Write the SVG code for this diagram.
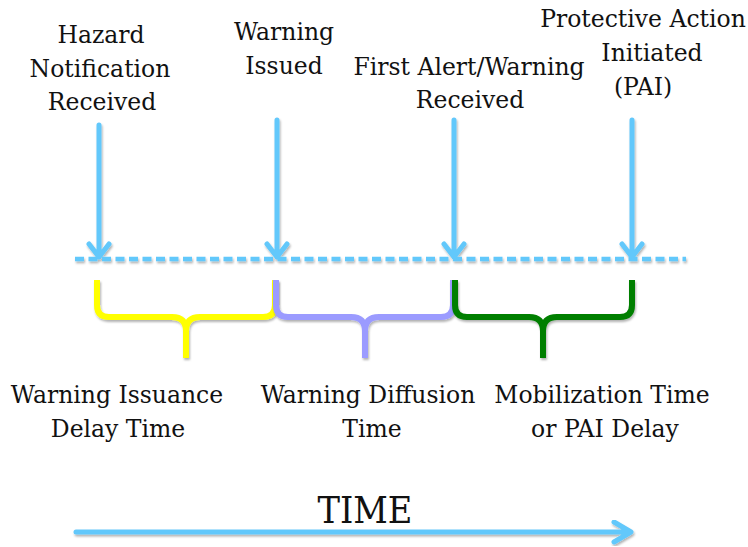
<svg xmlns="http://www.w3.org/2000/svg" width="748" height="547" viewBox="0 0 748 547">
  <style>
    text { font-family: "DejaVu Serif", "Liberation Serif", serif; font-size: 23.5px; fill: #111; text-anchor: middle; }
    .time { font-size: 37px; }
    .drop { stroke: #62c8fb; stroke-width: 5; fill: none; stroke-linecap: round; stroke-linejoin: round; }
    .axis { stroke: #62c8fb; stroke-width: 4.5; fill: none; stroke-dasharray: 9 4.5; }
    .brace { stroke-width: 6; fill: none; stroke-linecap: butt; stroke-linejoin: round; }
  </style>
  <defs>
    <filter id="shadow" x="-10%" y="-10%" width="120%" height="130%">
      <feDropShadow dx="1" dy="2" stdDeviation="1" flood-color="#000" flood-opacity="0.3"/>
    </filter>
  </defs>
  <rect width="748" height="547" fill="#fff"/>

  <!-- event labels -->
  <g id="hazard-notification">
    <text x="101" y="43">Hazard</text>
    <text x="100" y="77">Notification</text>
    <text x="102" y="110">Received</text>
  </g>
  <g id="warning-issued">
    <text x="284" y="40">Warning</text>
    <text x="284" y="74">Issued</text>
  </g>
  <g id="first-alert">
    <text x="469" y="75">First Alert/Warning</text>
    <text x="470" y="108">Received</text>
  </g>
  <g id="protective-action">
    <text x="643" y="27">Protective Action</text>
    <text x="652" y="61">Initiated</text>
    <text x="643" y="95">(PAI)</text>
  </g>

  <!-- event arrows and dashed timeline -->
  <g id="connectors" filter="url(#shadow)">
    <line class="axis" x1="75" y1="259" x2="686" y2="259"/>
    <path class="drop" d="M99,125 V257 M89,244 L99,257 L109,244"/>
    <path class="drop" d="M277,120 V257 M267,244 L277,257 L287,244"/>
    <path class="drop" d="M454,120 V257 M444,244 L454,257 L464,244"/>
    <path class="drop" d="M632,120 V257 M622,244 L632,257 L642,244"/>
  </g>

  <!-- interval braces -->
  <g id="issuance-delay">
    <path class="brace" stroke="#ffff00" filter="url(#shadow)" d="M97,280 V305 Q97,317 109,317 H172 Q186,317 186,331 V358 M186,331 Q186,317 200,317 H263 Q275,317 275,305 V280"/>
    <text x="117" y="403">Warning Issuance</text>
    <text x="118" y="437">Delay Time</text>
  </g>
  <g id="diffusion-time">
    <path class="brace" stroke="#9b9bff" filter="url(#shadow)" d="M276,280 V305 Q276,317 288,317 H351 Q365,317 365,331 V358 M365,331 Q365,317 379,317 H441 Q453,317 453,305 V280"/>
    <text x="368" y="403">Warning Diffusion</text>
    <text x="372" y="437">Time</text>
  </g>
  <g id="mobilization-time">
    <path class="brace" stroke="#007f00" filter="url(#shadow)" d="M455,280 V305 Q455,317 467,317 H529 Q543,317 543,331 V358 M543,331 Q543,317 557,317 H620 Q632,317 632,305 V280"/>
    <text x="602" y="403">Mobilization Time</text>
    <text x="605" y="437">or PAI Delay</text>
  </g>

  <!-- time axis -->
  <g id="time-axis">
    <text class="time" x="365" y="523" textLength="95" lengthAdjust="spacingAndGlyphs">TIME</text>
    <path class="drop" filter="url(#shadow)" d="M76,532 H630 M614,522 L631,532 L614,542"/>
  </g>
</svg>
